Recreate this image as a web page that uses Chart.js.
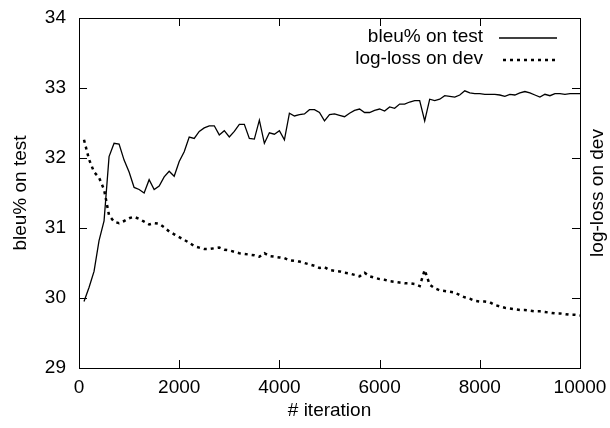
<!DOCTYPE html>
<html>
<head>
<meta charset="utf-8">
<script src="https://cdn.jsdelivr.net/npm/chart.js@4"></script>
<style>
  html, body { margin: 0; padding: 0; background: #fff; }
</style>
</head>
<body>
<canvas id="chart" width="610" height="428"></canvas>
<script>
'use strict';

const FONT = '"Liberation Sans", Arial, sans-serif';
const INK = '#000000';
const SIZE = 19;

// iterations where both curves were measured
const ITERATIONS = [
  100, 200, 300, 400, 500, 600, 700, 800, 900, 1000,
  1100, 1200, 1300, 1400, 1500, 1600, 1700, 1800, 1900, 2000,
  2100, 2200, 2300, 2400, 2500, 2600, 2700, 2800, 2900, 3000,
  3100, 3200, 3300, 3400, 3500, 3600, 3700, 3800, 3900, 4000,
  4100, 4200, 4300, 4400, 4500, 4600, 4700, 4800, 4900, 5000,
  5100, 5200, 5300, 5400, 5500, 5600, 5700, 5800, 5900, 6000,
  6100, 6200, 6300, 6400, 6500, 6600, 6700, 6800, 6900, 7000,
  7100, 7200, 7300, 7400, 7500, 7600, 7700, 7800, 7900, 8000,
  8100, 8200, 8300, 8400, 8500, 8600, 8700, 8800, 8900, 9000,
  9100, 9200, 9300, 9400, 9500, 9600, 9700, 9800, 9900, 10000
];

const BLEU_TEST = [
  29.95, 30.15, 30.38, 30.82, 31.10, 32.02, 32.21, 32.20, 31.97, 31.80,
  31.58, 31.55, 31.50, 31.69, 31.55, 31.60, 31.73, 31.81, 31.74, 31.95,
  32.09, 32.30, 32.28, 32.38, 32.43, 32.46, 32.46, 32.33, 32.39, 32.30,
  32.38, 32.48, 32.48, 32.28, 32.27, 32.54, 32.21, 32.36, 32.34, 32.39,
  32.26, 32.64, 32.60, 32.62, 32.63, 32.69, 32.69, 32.65, 32.53, 32.62,
  32.63, 32.61, 32.59, 32.64, 32.68, 32.70, 32.65, 32.65, 32.68, 32.70,
  32.67, 32.73, 32.71, 32.77, 32.77, 32.80, 32.82, 32.82, 32.53, 32.84,
  32.82, 32.84, 32.89, 32.88, 32.87, 32.90, 32.96, 32.93, 32.92, 32.92,
  32.91, 32.91, 32.91, 32.90, 32.88, 32.91, 32.90, 32.93, 32.95, 32.93,
  32.90, 32.87, 32.91, 32.89, 32.92, 32.92, 32.91, 32.92, 32.92, 32.92
];

// log-loss has no tick labels in the source; values are in the shared 29..34 frame
const LOGLOSS_DEV = [
  32.26, 31.98, 31.80, 31.72, 31.55, 31.18, 31.09, 31.07, 31.10, 31.14,
  31.16, 31.13, 31.09, 31.05, 31.07, 31.06, 31.01, 30.95, 30.91, 30.87,
  30.83, 30.79, 30.74, 30.72, 30.70, 30.70, 30.71, 30.72, 30.69, 30.68,
  30.66, 30.64, 30.63, 30.62, 30.61, 30.59, 30.64, 30.60, 30.59, 30.58,
  30.57, 30.54, 30.53, 30.52, 30.50, 30.48, 30.46, 30.43, 30.44, 30.40,
  30.39, 30.38, 30.36, 30.35, 30.33, 30.31, 30.36, 30.31, 30.29, 30.27,
  30.26, 30.24, 30.23, 30.22, 30.21, 30.21, 30.20, 30.17, 30.40, 30.19,
  30.14, 30.11, 30.10, 30.09, 30.08, 30.04, 30.01, 29.99, 29.96, 29.95,
  29.95, 29.94, 29.90, 29.88, 29.86, 29.85, 29.84, 29.83, 29.83, 29.82,
  29.81, 29.81, 29.80, 29.79, 29.78, 29.78, 29.77, 29.76, 29.76, 29.75
];

const X_TICKS = [0, 2000, 4000, 6000, 8000, 10000];
const Y_TICKS = [29, 30, 31, 32, 33, 34];

const pts = vals => vals.map((v, i) => ({ x: ITERATIONS[i], y: v }));

// gnuplot-style box: frame, inward ticks on all sides, legend, right title
const gnuplotFrame = {
  id: 'gnuplotFrame',
  afterDraw(chart) {
    const { ctx, chartArea: a, scales } = chart;
    const tick = 8;
    ctx.save();
    ctx.strokeStyle = INK;
    ctx.lineWidth = 1;
    ctx.strokeRect(Math.round(a.left) + 0.5, Math.round(a.top) + 0.5,
      Math.round(a.right - a.left), Math.round(a.bottom - a.top));

    ctx.beginPath();
    X_TICKS.forEach(v => {
      const px = Math.round(scales.x.getPixelForValue(v)) + 0.5;
      ctx.moveTo(px, a.bottom); ctx.lineTo(px, a.bottom - tick);
      ctx.moveTo(px, a.top); ctx.lineTo(px, a.top + tick);
    });
    Y_TICKS.forEach(v => {
      const py = Math.round(scales.y.getPixelForValue(v)) + 0.5;
      ctx.moveTo(a.left, py); ctx.lineTo(a.left + tick, py);
      ctx.moveTo(a.right, py); ctx.lineTo(a.right - tick, py);
    });
    ctx.stroke();

    // legend, top right inside the box
    ctx.font = SIZE + 'px ' + FONT;
    ctx.fillStyle = INK;
    ctx.textAlign = 'right';
    ctx.textBaseline = 'middle';
    const rows = [37, 59];
    chart.data.datasets.forEach((ds, i) => {
      const y = rows[i];
      ctx.fillText(ds.label, 483, y);
      ctx.beginPath();
      ctx.lineWidth = ds.borderWidth;
      ctx.setLineDash(ds.borderDash || []);
      ctx.moveTo(i ? 503 : 499, y + 1);
      ctx.lineTo(557, y + 1);
      ctx.stroke();
    });
    ctx.setLineDash([]);

    // right axis title reads bottom-to-top like the left one
    ctx.translate(598, 193);
    ctx.rotate(-Math.PI / 2);
    ctx.textAlign = 'center';
    ctx.fillText('log-loss on dev', 0, 0);
    ctx.restore();
  }
};

new Chart(document.getElementById('chart'), {
  type: 'line',
  data: {
    datasets: [{
      label: 'bleu% on test',
      data: pts(BLEU_TEST),
      borderColor: INK,
      borderWidth: 1.3,
      pointRadius: 0,
      tension: 0,
      yAxisID: 'y',
    }, {
      label: 'log-loss on dev',
      data: pts(LOGLOSS_DEV),
      borderColor: INK,
      borderWidth: 2.5,
      borderDash: [3, 4],
      borderCapStyle: 'butt',
      pointRadius: 0,
      tension: 0,
      yAxisID: 'y2',
    }],
  },
  options: {
    responsive: false,
    animation: false,
    devicePixelRatio: 1,
    layout: { padding: { top: 18, left: 0, right: 0, bottom: 0 } },
    plugins: { legend: { display: false }, tooltip: { enabled: false } },
    scales: {
      x: {
        type: 'linear',
        min: 0,
        max: 10000,
        afterBuildTicks: s => { s.ticks = X_TICKS.map(v => ({ value: v })); },
        afterFit: s => { s.height = 60; s.paddingLeft = 0; s.paddingRight = 0; },
        grid: { display: false, drawTicks: false },
        border: { display: false },
        ticks: { color: INK, padding: 8, maxRotation: 0, callback: v => String(v),
          font: { family: FONT, size: SIZE } },
        title: { display: true, text: '# iteration', color: INK, padding: { top: 0, bottom: 6 },
          font: { family: FONT, size: SIZE } },
      },
      y: {
        min: 29,
        max: 34,
        afterBuildTicks: s => { s.ticks = Y_TICKS.map(v => ({ value: v })); },
        afterFit: s => { s.width = 79; s.paddingTop = 0; s.paddingBottom = 0; },
        grid: { display: false, drawTicks: false },
        border: { display: false },
        ticks: { color: INK, padding: 13, callback: v => String(v),
          font: { family: FONT, size: SIZE } },
        title: { display: true, text: 'bleu% on test', color: INK, padding: { top: 9, bottom: 0 },
          font: { family: FONT, size: SIZE } },
      },
      y2: {
        position: 'right',
        min: 29,
        max: 34,
        afterFit: s => { s.width = 30; s.paddingTop = 0; s.paddingBottom = 0; },
        grid: { display: false, drawTicks: false },
        border: { display: false },
        ticks: { display: false },
      },
    },
  },
  plugins: [gnuplotFrame],
});
</script>
</body>
</html>
